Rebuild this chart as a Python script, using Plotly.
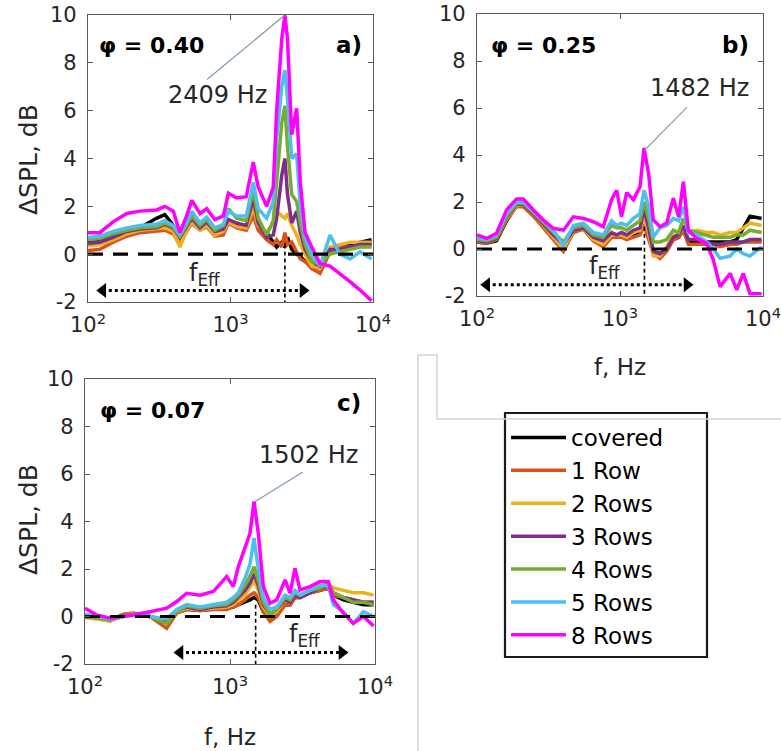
import plotly.graph_objects as go

W, H = 781, 751

SERIES = ["covered", "1 Row", "2 Rows", "3 Rows", "4 Rows", "5 Rows", "8 Rows"]
COLORS = ["#000000", "#D95319", "#EDB120", "#7E2F8E", "#77AC30", "#4DBEEE", "#FF00FF"]

# ---------------- panel a) phi = 0.40 ----------------
F_A = [100, 121, 150, 187, 232, 302, 346, 397, 441, 492, 535, 611, 680, 777, 891, 966,
       1104, 1290, 1445, 1566, 1794, 1995, 2108, 2290, 2409, 2512, 2690, 2913, 3090,
       3336, 3715, 4250, 4990, 5860, 6900, 8110, 9780]
A_COVERED = [0.5, 0.55, 0.75, 1.0, 1.1, 1.5, 1.65, 1.2, 0.7, 1.15, 1.45, 1.1, 1.3, 0.95, 0.95, 1.3,
             1.2, 1.1, 1.8, 1.2, 0.9, 0.5, 0.3, 0.5, 0.3, 0.7, 0.2, 0.0, -0.1, -0.3, -0.5, -0.6,
             0.2, 0.3, 0.4, 0.5, 0.6]
A_ROW1 = [0.15, 0.2, 0.5, 0.75, 0.9, 0.95, 1.0, 0.85, 0.4, 0.95, 1.3, 1.0, 1.15, 0.75, 0.8, 1.3,
          1.1, 1.0, 1.6, 1.0, 0.6, 0.4, 0.6, 0.3, 0.9, 0.4, 0.5, 0.1, -0.2, -0.3, -0.6, -0.8,
          0.1, 0.3, 0.3, 0.4, 0.4]
A_ROW2 = [0.35, 0.4, 0.6, 0.85, 1.0, 1.05, 1.1, 0.95, 0.3, 1.0, 1.35, 1.0, 1.2, 0.8, 0.95, 1.35,
          1.15, 1.1, 1.9, 1.2, 0.9, 1.3, 1.8, 1.6, 1.5, 1.7, 1.2, 0.8, 0.4, 0.0, -0.5, -0.6,
          0.3, 0.4, 0.5, 0.5, 0.5]
A_ROW3 = [0.45, 0.5, 0.7, 0.95, 1.05, 1.1, 1.25, 1.1, 0.7, 1.15, 1.5, 1.1, 1.35, 0.95, 1.05, 1.45,
          1.3, 1.2, 2.3, 1.3, 0.7, 0.8, 1.5, 3.3, 4.0, 2.5, 1.3, 1.8, 0.9, 0.2, -0.3, -0.5,
          0.2, 0.2, 0.3, 0.4, 0.4]
A_ROW4 = [0.6, 0.65, 0.85, 1.0, 1.1, 1.15, 1.3, 1.15, 0.75, 1.2, 1.6, 1.2, 1.45, 1.0, 1.2, 1.9,
          1.5, 1.4, 2.7, 1.5, 0.8, 1.4, 3.0, 5.5, 6.2, 4.5, 2.5, 2.2, 1.3, 0.4, -0.3, -0.4,
          0.0, 0.1, 0.2, 0.3, 0.3]
A_ROW5 = [0.7, 0.75, 0.95, 1.1, 1.2, 1.25, 1.4, 1.2, 0.8, 1.3, 1.8, 1.3, 1.55, 1.1, 1.25, 1.8,
          1.6, 1.6, 3.0, 1.9, 1.5, 2.2, 4.8, 7.0, 7.7, 6.5, 4.0, 4.2, 2.0, 0.7, 0.0, -0.5,
          0.8, 0.0, -0.2, 0.1, -0.2]
A_ROW8 = [0.9, 0.9, 1.35, 1.7, 1.8, 1.85, 2.0, 1.8, 0.9, 1.6, 2.25, 1.7, 1.9, 1.45, 1.6, 2.55,
          2.35, 2.4, 3.85, 2.8, 2.0, 2.8, 6.0, 9.0, 10.0, 9.0, 5.0, 6.1, 3.0, 0.9, 0.3, -0.4,
          -0.5, -0.8, -1.15, -1.5, -1.95]

# ---------------- panel b) phi = 0.25 ----------------
F_B = [100, 117, 137, 161, 189, 211, 248, 291, 342, 402, 472, 555, 650, 764, 873, 948, 1025,
       1114, 1241, 1380, 1473, 1585, 1710, 1905, 2120, 2360, 2570, 2775, 3005, 3437, 4034,
       4497, 5010, 5890, 6550, 7280, 8110, 9780]
B_COVERED = [0.3, 0.25, 0.35, 1.2, 1.85, 1.85, 1.45, 1.0, 0.5, 0.0, 0.8, 0.9, 0.4, 0.25, 0.6, 0.6,
             0.6, 0.5, 0.6, 0.7, 1.1, 0.5, -0.1, -0.2, 0.0, 0.4, 0.5, 0.8, 0.3, 0.3, 0.3, 0.3,
             0.3, 0.3, 0.4, 0.9, 1.4, 1.3]
B_ROW1 = [0.3, 0.25, 0.4, 1.25, 1.8, 1.8, 1.4, 0.9, 0.45, -0.1, 0.7, 0.85, 0.35, 0.1, 0.5, 0.5,
          0.5, 0.4, 0.5, 0.6, 1.0, 0.4, -0.2, -0.4, -0.1, 0.4, 0.5, 0.8, 0.2, 0.2, 0.2, 0.2,
          0.1, 0.2, 0.2, 0.3, 0.3, 0.3]
B_ROW2 = [0.35, 0.3, 0.45, 1.3, 1.85, 1.9, 1.5, 1.0, 0.55, 0.0, 0.8, 0.9, 0.4, 0.2, 0.6, 0.6,
          0.6, 0.5, 0.7, 0.8, 1.3, 0.7, -0.3, -0.3, 0.1, 0.6, 0.6, 0.9, 0.7, 0.8, 0.7, 0.7,
          0.6, 0.7, 0.7, 0.9, 1.1, 1.0]
B_ROW3 = [0.35, 0.3, 0.45, 1.35, 1.9, 1.9, 1.5, 1.05, 0.6, 0.2, 0.8, 0.9, 0.5, 0.35, 0.7, 0.6,
          0.7, 0.6, 0.8, 0.9, 1.7, 0.9, -0.1, -0.2, 0.0, 0.5, 0.6, 1.0, 0.4, 0.4, 0.3, 0.2,
          0.2, 0.3, 0.3, 0.3, 0.4, 0.4]
B_ROW4 = [0.4, 0.35, 0.5, 1.4, 1.95, 1.95, 1.55, 1.1, 0.7, 0.3, 0.9, 1.0, 0.6, 0.5, 1.0, 0.9,
          0.9, 0.8, 1.0, 1.2, 2.0, 1.3, 0.3, 0.3, 0.4, 0.8, 0.7, 1.3, 0.8, 0.7, 0.6, 0.5,
          0.5, 0.5, 0.6, 0.6, 0.8, 0.7]
B_ROW5 = [0.5, 0.4, 0.6, 1.5, 2.0, 2.0, 1.6, 1.2, 0.8, 0.15, 1.0, 1.1, 0.7, 0.6, 1.2, 1.0,
          1.1, 1.0, 1.3, 1.5, 2.5, 1.8, 0.5, 0.9, 1.0, 1.3, 1.2, 1.8, 0.7, 0.6, 0.3, 0.0,
          -0.4, -0.3, 0.0, -0.2, -0.3, 0.1]
B_ROW8 = [0.6, 0.45, 0.67, 1.66, 2.13, 2.13, 1.66, 1.23, 0.88, 0.8, 1.37, 1.3, 1.16, 0.95, 2.1,
          2.5, 1.37, 2.4, 2.1, 2.65, 4.3, 3.2, 1.23, 0.95, 1.1, 2.16, 1.37, 2.86, 0.8, 0.45,
          0.24, -0.47, -1.6, -1.04, -1.74, -1.04, -1.9, -1.9]

# ---------------- panel c) phi = 0.07 ----------------
F_C = [100, 120, 149, 184, 215, 281, 366, 429, 502, 621, 767, 948, 1054, 1141, 1268, 1374,
       1465, 1567, 1698, 1888, 2100, 2400, 2595, 2807, 3038, 3565, 4170, 4760, 5160, 6050,
       7080, 8320, 9780]
C_COVERED = [0.0, -0.05, -0.15, 0.05, 0.1, 0.0, -0.25, 0.15, 0.3, 0.25, 0.3, 0.35, 0.4, 0.5, 0.6,
             0.7, 0.8, 0.7, 0.2, -0.1, 0.1, 0.5, 0.5, 0.8, 0.8, 1.0, 1.1, 1.2, 0.9, 0.7, 0.6,
             0.5, 0.5]
C_ROW1 = [0.0, -0.05, -0.15, 0.1, 0.15, 0.0, -0.5, 0.15, 0.3, 0.25, 0.3, 0.3, 0.4, 0.5, 0.7,
          0.9, 1.0, 0.8, 0.2, -0.2, 0.0, 0.5, 0.5, 0.8, 0.8, 1.0, 1.1, 1.2, 0.9, 0.8, 0.7,
          0.6, 0.6]
C_ROW2 = [-0.05, -0.1, -0.2, 0.05, 0.1, 0.0, -0.2, 0.2, 0.35, 0.3, 0.35, 0.4, 0.5, 0.7, 0.9,
          1.2, 1.5, 1.1, 0.4, 0.0, 0.2, 0.7, 0.6, 0.9, 0.9, 1.1, 1.3, 1.4, 1.2, 1.1, 1.0,
          1.0, 0.9]
C_ROW3 = [0.0, -0.05, -0.15, 0.05, 0.05, 0.0, -0.2, 0.25, 0.4, 0.3, 0.4, 0.45, 0.6, 0.8, 1.1,
          1.4, 1.8, 1.3, 0.5, 0.1, 0.3, 0.7, 0.6, 0.9, 0.8, 1.0, 1.2, 1.3, 1.0, 0.8, 0.7,
          0.6, 0.6]
C_ROW4 = [0.0, -0.05, -0.15, 0.0, 0.05, 0.0, -0.3, 0.2, 0.45, 0.35, 0.45, 0.5, 0.7, 0.9, 1.3,
          1.7, 2.1, 1.5, 0.6, 0.1, 0.3, 0.8, 0.7, 1.0, 0.9, 1.1, 1.2, 1.4, 1.0, 0.8, 0.6,
          0.6, 0.5]
C_ROW5 = [0.1, 0.0, -0.1, 0.0, 0.1, 0.0, -0.1, 0.3, 0.5, 0.4, 0.5, 0.6, 0.8, 1.0, 1.6, 2.2,
          3.3, 2.0, 0.8, 0.3, 0.4, 0.9, 0.8, 1.1, 0.9, 1.1, 1.3, 1.3, 0.5, 0.2, -0.3, 0.2, 0.0]
C_ROW8 = [0.35, 0.07, -0.07, 0.0, 0.07, 0.2, 0.35, 0.63, 0.98, 0.9, 1.05, 1.68, 1.26, 2.1,
          2.94, 3.5, 4.84, 3.5, 1.26, 0.56, 0.7, 1.54, 0.98, 2.03, 1.12, 1.26, 1.47, 1.47,
          0.7, 0.14, -0.28, 0.0, -0.4]

Y_TICKS = [-2, 0, 2, 4, 6, 8, 10]
Y_TICKTEXT = ["-2", "0", "2", "4", "6", "8", "10"]
X_TICKS = [100, 1000, 10000]
X_TICKTEXT = ["10<sup>2</sup>", "10<sup>3</sup>", "10<sup>4</sup>"]

PHI_LABELS = ["φ = 0.40", "φ = 0.25", "φ = 0.07"]
PANEL_LABELS = ["a)", "b)", "c)"]
PEAK_F = [2409, 1482, 1502]
PEAK_DB = [10.0, 4.2, 4.85]
PEAK_TEXT = ["2409 Hz", "1482 Hz", "1502 Hz"]
ARROW_F = [[127, 3228], [117, 2940], [452, 5916]]
FEFF_TOP = [0.4, 0.95, 0.5]

PANELS = [
    (F_A, [A_COVERED, A_ROW1, A_ROW2, A_ROW3, A_ROW4, A_ROW5, A_ROW8]),
    (F_B, [B_COVERED, B_ROW1, B_ROW2, B_ROW3, B_ROW4, B_ROW5, B_ROW8]),
    (F_C, [C_COVERED, C_ROW1, C_ROW2, C_ROW3, C_ROW4, C_ROW5, C_ROW8]),
]

# pixel layout of the three axes boxes: (left, right, top, bottom)
BOXES = [(88, 373, 15, 302), (477, 763, 14, 296), (85, 375, 379, 664)]


def px(x):
    return x / W


def py(y):
    return 1 - y / H


fig = go.Figure()
TXT = "#262626"
FONT = "DejaVu Sans, sans-serif"

for p, (freq, vals) in enumerate(PANELS):
    xa = "x" if p == 0 else f"x{p+1}"
    ya = "y" if p == 0 else f"y{p+1}"
    for s, name in enumerate(SERIES):
        fig.add_trace(go.Scatter(
            x=freq, y=vals[s], xaxis=xa, yaxis=ya, mode="lines",
            line=dict(color=COLORS[s], width=3.5), name=name, legendgroup=name,
            showlegend=(p == 0), hoverinfo="skip"))
    # zero reference
    fig.add_trace(go.Scatter(x=[100, 10000], y=[0, 0], xaxis=xa, yaxis=ya, mode="lines",
                             line=dict(color="black", width=3.2, dash="15px,10px"),
                             showlegend=False, hoverinfo="skip"))
    # f_eff vertical marker
    fig.add_trace(go.Scatter(x=[PEAK_F[p], PEAK_F[p]], y=[FEFF_TOP[p], -2], xaxis=xa, yaxis=ya,
                             mode="lines", line=dict(color="black", width=1.6, dash="4px,3px"),
                             showlegend=False, hoverinfo="skip"))
    # dotted double arrow
    fa, fb = ARROW_F[p]
    ay = -1.52
    fig.add_trace(go.Scatter(x=[fa, fb], y=[ay, ay], xaxis=xa, yaxis=ya, mode="lines",
                             line=dict(color="black", width=3, dash="dot"),
                             showlegend=False, hoverinfo="skip"))
    fig.add_trace(go.Scatter(x=[fa, fb], y=[ay, ay], xaxis=xa, yaxis=ya, mode="markers",
                             marker=dict(symbol=["triangle-left", "triangle-right"], size=13,
                                         color="black"),
                             showlegend=False, hoverinfo="skip", cliponaxis=False))

    l, r, t, b = BOXES[p]
    axcommon = dict(showline=True, linecolor="#5a5a5a", linewidth=1.3, mirror="ticks",
                    ticks="inside", ticklen=5, tickcolor="#5a5a5a", showgrid=False,
                    zeroline=False, automargin=False, ticklabeloverflow="allow",
                    tickfont=dict(family=FONT, size=21, color=TXT))
    fig.update_layout(**{
        ("xaxis" if p == 0 else f"xaxis{p+1}"): dict(
            type="log", range=[2, 4], domain=[px(l), px(r)], anchor=ya,
            tickvals=X_TICKS, ticktext=X_TICKTEXT, ticklabelstandoff=4, **axcommon),
        ("yaxis" if p == 0 else f"yaxis{p+1}"): dict(
            range=[-2, 10], domain=[py(b), py(t)], anchor=xa,
            tickvals=Y_TICKS, ticktext=Y_TICKTEXT, ticklabelstandoff=6, **axcommon),
    })

# leader lines from peak to label (drawn in data coordinates)
LEADER_END = [(684, 7.3), (2943, 6.04), (3184, 6.08)]
for p in range(3):
    xa = "x" if p == 0 else f"x{p+1}"
    ya = "y" if p == 0 else f"y{p+1}"
    fx, fy = LEADER_END[p]
    fig.add_trace(go.Scatter(x=[PEAK_F[p], fx], y=[PEAK_DB[p], fy], xaxis=xa, yaxis=ya,
                             mode="lines", line=dict(color="#7f9bb3", width=1.2),
                             showlegend=False, hoverinfo="skip"))

ann = []
for (x, y), t in zip([(151, 45), (543, 45), (152, 410)], PHI_LABELS):
    ann.append(dict(x=px(x), y=py(y), xref="paper", yref="paper", text=f"<b>{t}</b>",
                    showarrow=False, font=dict(family=FONT, size=22, color="black"),
                    xanchor="center", yanchor="middle"))
for (x, y), t in zip([(364, 45), (751, 45), (363, 403)], PANEL_LABELS):
    ann.append(dict(x=px(x), y=py(y), xref="paper", yref="paper", text=f"<b>{t}</b>",
                    showarrow=False, font=dict(family=FONT, size=23, color="black"),
                    xanchor="right", yanchor="middle"))
for (x, y), t in zip([(217, 95), (699, 88), (308, 455)], PEAK_TEXT):
    ann.append(dict(x=px(x), y=py(y), xref="paper", yref="paper", text=t,
                    showarrow=False, font=dict(family=FONT, size=24, color=TXT),
                    xanchor="center", yanchor="middle"))
for (x, y) in [(204, 274), (604, 267), (304, 635)]:
    ann.append(dict(x=px(x), y=py(y), xref="paper", yref="paper", text="f<sub>Eff</sub>",
                    showarrow=False, font=dict(family=FONT, size=24, color=TXT),
                    xanchor="center", yanchor="middle"))
for (x, y) in [(28, 160), (28, 520)]:
    ann.append(dict(x=px(x), y=py(y), xref="paper", yref="paper", text="ΔSPL, dB",
                    textangle=-90, showarrow=False,
                    font=dict(family=FONT, size=25, color=TXT),
                    xanchor="center", yanchor="middle"))
for (x, y) in [(620, 367), (230, 737)]:
    ann.append(dict(x=px(x), y=py(y), xref="paper", yref="paper", text="f, Hz",
                    showarrow=False, font=dict(family=FONT, size=23, color=TXT),
                    xanchor="center", yanchor="middle"))

# light grey frame lines between panels
path = (f"M {px(418)},{py(751)} L {px(418)},{py(355)} L {px(437)},{py(355)} "
        f"L {px(437)},{py(419)} L {px(781)},{py(419)}")
shapes = [
    dict(type="path", xref="paper", yref="paper", path=path,
         line=dict(color="#d4d4d4", width=1.5), fillcolor="rgba(0,0,0,0)"),
    # legend frame
    dict(type="rect", xref="paper", yref="paper", x0=px(505), x1=px(707), y0=py(657),
         y1=py(413), line=dict(color="#1a1a1a", width=2.2), fillcolor="white", layer="below"),
]

fig.update_layout(
    width=W, height=H, autosize=False,
    margin=dict(l=0, r=0, t=0, b=0, autoexpand=False),
    paper_bgcolor="white", plot_bgcolor="white",
    annotations=ann, shapes=shapes,
    legend=dict(x=px(506), y=py(416), xanchor="left", yanchor="top",
                bgcolor="rgba(0,0,0,0)", borderwidth=0,
                font=dict(family=FONT, size=23, color="black"),
                itemwidth=55, tracegroupgap=3, traceorder="normal"),
    showlegend=True,
)

fig.write_html("out.html", config={"displayModeBar": False},
               post_script="document.body.style.margin='0px';")
